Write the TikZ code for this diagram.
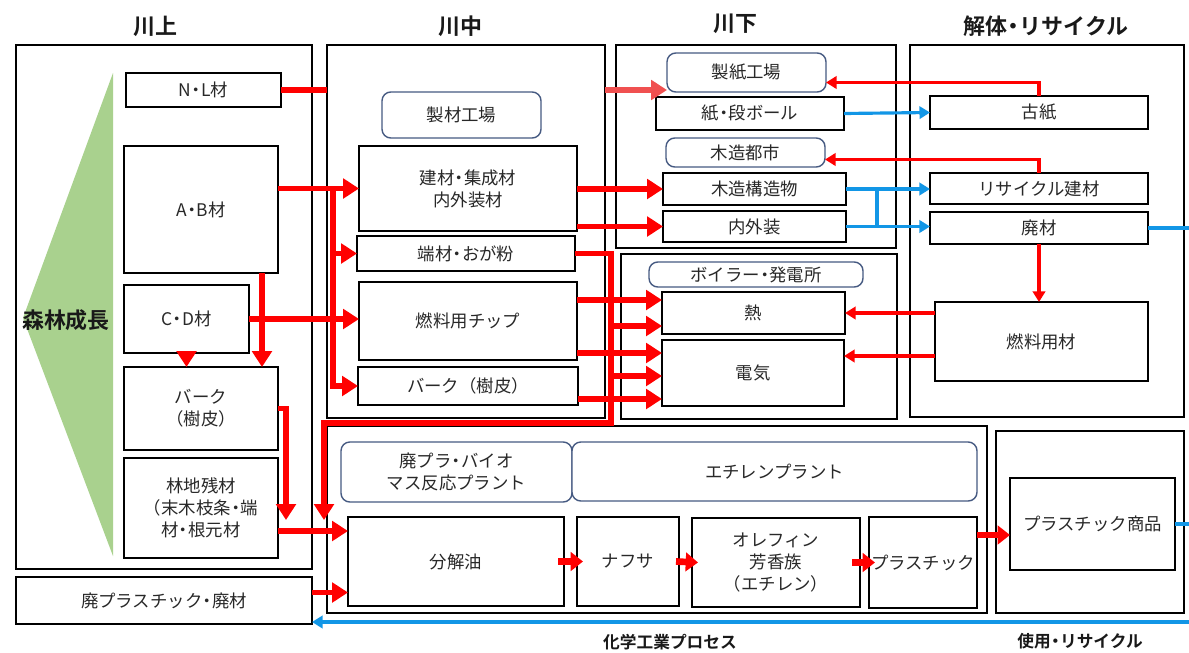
\documentclass[tikz,border=0pt]{standalone}
\usepackage{fontspec}
\setmainfont{Noto Sans CJK JP}[BoldFont={Noto Sans CJK JP Bold}]
\usetikzlibrary{arrows.meta,calc}
\definecolor{rd}{RGB}{255,0,0}
\definecolor{rdl}{RGB}{240,80,80}
\definecolor{bl}{RGB}{18,150,230}
\definecolor{grn}{RGB}{169,209,142}
\definecolor{rb}{RGB}{70,90,130}
\definecolor{txt}{RGB}{40,40,40}
\newcommand{\ndot}{\kern-0.22em・\kern-0.22em}
\newcommand{\bx}[7][box]{\node[#1,anchor=north west,minimum width={(#5-#3)*0.02cm},minimum height={(#6-#4)*0.02cm}] (#2) at (#3,#4) {#7};}
\tikzset{
  box/.style={draw=black, line width=1.1pt, fill=white, outer sep=0pt, inner sep=1pt, align=center, font=\fontsize{9.9}{12.5}\selectfont, text=txt},
  rbox/.style={box, draw=rb, line width=0.8pt, rounded corners=5pt},
  panel/.style={draw=black, line width=1.1pt, fill=white, outer sep=0pt, inner sep=0pt},
  hdr/.style={font=\bfseries\fontsize{12.5}{14}\selectfont, text=black!90},
  subhdr/.style={font=\bfseries\fontsize{9.5}{12}\selectfont, text=black!90},
  rarr/.style={draw=rd, line width=3.4pt, -{Triangle[length=9pt,width=11pt]}},
  rline/.style={draw=rd, line width=3.4pt},
  tarr/.style={draw=rd, line width=1.8pt, -{Triangle[length=6pt,width=7pt]}},
  barr/.style={draw=bl, line width=1.8pt, -{Triangle[length=6pt,width=7pt]}},
  bline/.style={draw=bl, line width=1.8pt},
  carr/.style={draw=rd, line width=3.8pt, -{Triangle[length=7pt,width=10.5pt]}}
}
\begin{document}
\begin{tikzpicture}[x=0.02cm,y=-0.02cm]
\useasboundingbox (0,0) rectangle (1189,652);
% headers
\node[hdr] (h1) at (155,26) {川上};
\node[hdr] (h2) at (460,26) {川中};
\node[hdr] (h3) at (735,24) {川下};
\node[hdr] (h4) at (1046,26) {解体\ndot リサイクル};
\node[subhdr] (h5) at (670,642) {化学工業プロセス};
\node[subhdr] (h6) at (1080,641) {使用\ndot リサイクル};
% panels
\bx[panel]{pUp}{16}{45}{312}{569}{}
\bx[panel]{pMid}{327}{45}{605}{418}{}
\bx[panel]{pDn1}{616}{45}{896}{248}{}
\bx[panel]{pDn2}{621}{254}{897}{419}{}
\bx[panel]{pRec}{910}{45}{1184}{417}{}
\bx[panel]{pChem}{327}{426}{987}{613}{}
\bx[panel]{pUse}{996}{431}{1184}{613}{}
% green triangle
\fill[grn] (113,73) -- (23,318) -- (113,556) -- cycle;
\node[hdr] (forest) at (66,320) {森林成長};
% upstream boxes
\bx{nl}{126}{73}{281}{107}{N\ndot L材}
\bx{ab}{124}{146}{278}{273}{A\ndot B材}
\bx{cd}{124}{285}{249}{353}{C\ndot D材}
\bx{bark1}{124}{367}{278}{450}{バーク\\（樹皮）}
\bx{rinchi}{124}{458}{278}{558}{林地残材\\（末木枝条\ndot 端\\材\ndot 根元材}
\bx{haipla}{16}{577}{312}{624}{廃プラスチック\ndot 廃材}
% midstream
\bx[rbox]{seizai}{382}{92}{541}{138}{製材工場}
\bx{kenzai}{359}{146}{577}{231}{建材\ndot 集成材\\内外装材}
\bx{hazai}{357}{236}{575}{271}{端材\ndot おが粉}
\bx{chip}{359}{282}{577}{360}{燃料用チップ}
\bx{bark2}{358}{367}{578}{405}{バーク（樹皮）}
% downstream
\bx[rbox]{seishi}{667}{53}{826}{92}{製紙工場}
\bx{kami}{656}{97}{844}{130}{紙\ndot 段ボール}
\bx[rbox]{mokuzo}{666}{138}{825}{167}{木造都市}
\bx{kozo}{663}{173}{846}{205}{木造構造物}
\bx{naigai}{663}{211}{846}{242}{内外装}
\bx[rbox]{boiler}{649}{262}{863}{287}{ボイラー\ndot 発電所}
\bx{netsu}{662}{292}{845}{334}{熱}
\bx{denki}{662}{340}{844}{406}{電気}
% recycle
\bx{koshi}{930}{96}{1148}{129}{古紙}
\bx{recyc}{930}{173}{1148}{204}{リサイクル建材}
\bx{haizai}{930}{212}{1148}{244}{廃材}
\bx{nenryo}{935}{302}{1148}{381}{燃料用材}
% chemical
\bx[rbox]{plant1}{341}{442}{572}{502}{廃プラ\ndot バイオ\\マス反応プラント}
\bx[rbox]{plant2}{572}{442}{977}{501}{エチレンプラント}
\bx{bunkai}{348}{517}{564}{606}{分解油}
\bx{naphtha}{577}{517}{679}{606}{ナフサ}
\bx{olefin}{692}{518}{860}{607}{オレフィン\\芳香族\\（エチレン）}
\bx{plastic}{869}{517}{977}{608}{プラスチック}
\bx{shohin}{1010}{478}{1175}{570}{プラスチック商品}
% helper coordinates
\coordinate (v1) at (333,0);
\coordinate (v2) at (262,0);
\coordinate (v3) at (286,520);
\coordinate (c1) at (611,423);
\coordinate (c2) at (324,520);
\coordinate (v5) at (877,0);
\coordinate (R) at (1189,0);
\coordinate (b1) at (1189,622);
\coordinate (y530) at ($(rinchi.east)+(0,23)$);
\coordinate (hp) at ($(haipla.east)+(0,-8)$);
\coordinate (n1) at ($(netsu.west)+(0,-13)$);
\coordinate (n2) at ($(netsu.west)+(0,13)$);
\coordinate (d1) at ($(denki.west)+(0,-20)$);
\coordinate (d2) at ($(denki.west)+(0,3)$);
\coordinate (d3) at ($(denki.west)+(0,26)$);
\coordinate (de) at ($(denki.east)+(0,-17)$);
\coordinate (k1) at ($(seishi.east)+(0,10)$);
\coordinate (m1) at ($(mokuzo.east)+(0,7)$);
\coordinate (s1) at ($(shohin.west)+(0,11)$);
% red arrows, upstream
\draw[rline] (nl.east) -- (nl.east -| pMid.west);
\draw[draw=rdl, line width=3.4pt, -{Triangle[length=9pt,width=11pt]}] (pMid.east |- nl.east) -- (seishi.west |- nl.east);
\draw[rarr] (ab.east |- kenzai.west) -- (kenzai.west);
\draw[rarr] (v1 |- kenzai.west) -- (v1 |- bark2.west) -- (bark2.west);
\draw[rarr] (v1 |- hazai.west) -- (hazai.west);
\draw[rarr] (v2 |- ab.south) -- (v2 |- bark1.north);
\draw[rarr] (cd.south) -- (cd.south |- bark1.north);
\draw[rarr] (cd.east) -- (cd.east -| chip.west);
\draw[rarr] (bark1.east) -| (v3);
\draw[rarr] (rinchi.east |- y530) -- (y530 -| bunkai.west);
\draw[rarr] (hp) -- (hp -| bunkai.west);
% red arrows, midstream
\draw[rarr] (kenzai.east |- kozo.west) -- (kozo.west);
\draw[rarr] (kenzai.east |- naigai.west) -- (naigai.west);
\draw[rarr] (hazai.east) -| (c1) -| (c2);
\draw[rarr] (chip.east |- n1) -- (n1);
\draw[rarr] (c1 |- n2) -- (n2);
\draw[rarr] (chip.east |- d1) -- (d1);
\draw[rarr] (c1 |- d2) -- (d2);
\draw[rarr] (bark2.east |- d3) -- (d3);
% recycle red
\draw[tarr] (koshi.north) |- (k1);
\draw[tarr] (recyc.north) |- (m1);
\draw[tarr] (haizai.south) -- (haizai.south |- nenryo.north);
\draw[tarr] (nenryo.west |- netsu.east) -- (netsu.east);
\draw[tarr] (nenryo.west |- de) -- (de);
% blue
\draw[barr] (kami.east) -- (koshi.west);
\draw[barr] (kozo.east) -- (kozo.east -| recyc.west);
\draw[barr] (naigai.east) -- (naigai.east -| haizai.west);
\draw[bline] (v5 |- kozo.east) -- (v5 |- naigai.east);
\draw[bline] (haizai.east) -- (haizai.east -| R);
\draw[bline] (shohin.east) -- (shohin.east -| R);
\draw[barr] (b1) -- (b1 -| haipla.east);
% chemical arrows
\draw[carr] ($(bunkai.east)+(-6,0)$) -- ($(naphtha.west)+(6,0)$);
\draw[carr] ($(naphtha.east)+(-3,0)$) -- ($(olefin.west)+(6,0)$);
\draw[carr] ($(olefin.east)+(-8,0)$) -- ($(plastic.west)+(6,0)$);
\draw[carr] (plastic.east |- s1) -- (s1);
\end{tikzpicture}
\end{document}
